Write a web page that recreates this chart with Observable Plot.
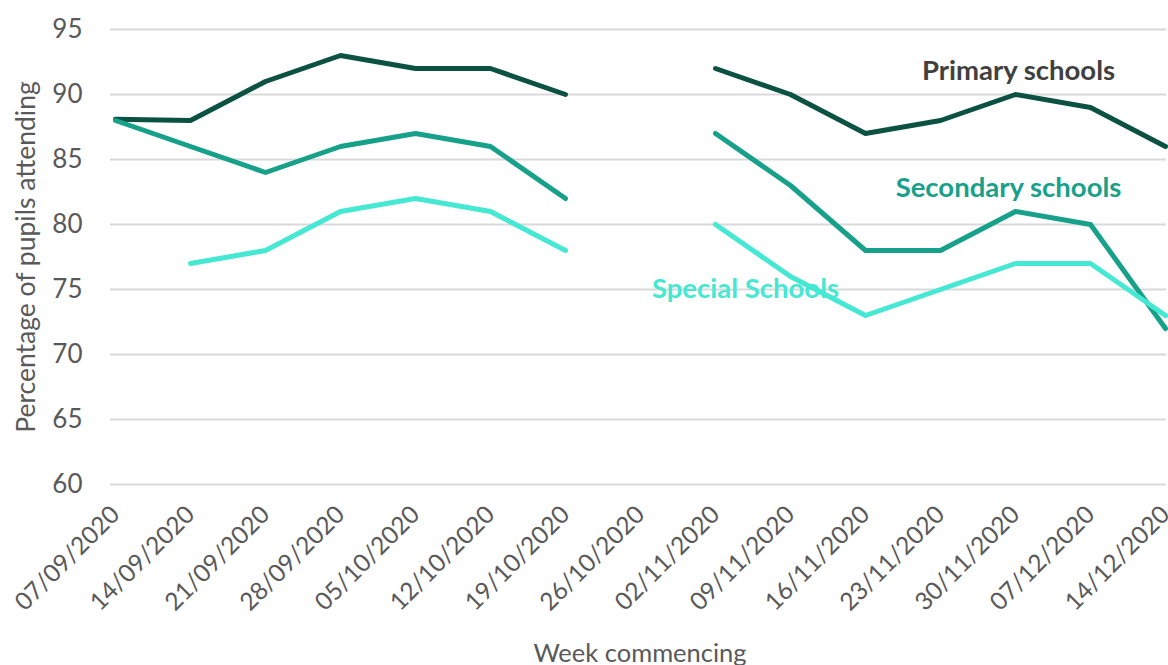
<!DOCTYPE html>
<html><head><meta charset="utf-8">
<script src="https://cdn.jsdelivr.net/npm/d3@7"></script>
<script src="https://cdn.jsdelivr.net/npm/@observablehq/plot@0.6"></script>
<style>
html,body{margin:0;padding:0;background:#fff;}
#chart svg{display:block;}
</style>
</head><body><div id="chart"></div>
<script>
const weeks = ["07/09/2020","14/09/2020","21/09/2020","28/09/2020","05/10/2020","12/10/2020","19/10/2020","26/10/2020","02/11/2020","09/11/2020","16/11/2020","23/11/2020","30/11/2020","07/12/2020","14/12/2020"];
const primary   = [88.1, 88, 91, 93, 92, 92, 90, null, 92, 90, 87, 88, 90, 89, 86];
const secondary = [88, 86, 84, 86, 87, 86, 82, null, 87, 83, 78, 78, 81, 80, 72];
const special   = [null, 77, 78, 81, 82, 81, 78, null, 80, 76, 73, 75, 77, 77, 73];
const seriesNames = ["Primary schools", "Secondary schools", "Special Schools"];
const yTicks = [60, 65, 70, 75, 80, 85, 90, 95];
const labelWeeks = ["30/11/2020", "30/11/2020", "02/11/2020"];
const labelValues = [91.8, 82.8, 75];
const yTitle = "Percentage of pupils attending";
const xTitle = "Week commencing";

const seriesValues = [primary, secondary, special];
const rows = seriesNames.flatMap((s, i) => weeks.map((w, j) => ({
  week: w, value: seriesValues[i][j] == null ? NaN : seriesValues[i][j], series: s
})));
const labelRows = seriesNames.map((s, i) => ({week: labelWeeks[i], value: labelValues[i], series: s}));

const lineColors = ["#0c5243", "#17a08a", "#45e8d2"];
const labelColors = ["#404040", "#17a08a", "#45e8d2"];
const labelDx = [3, -7, 30];

const chart = Plot.plot({
  width: 1168, height: 665,
  marginTop: 29, marginBottom: 181, marginLeft: 113, marginRight: 2,
  style: {fontFamily: "Lato, 'Open Sans', sans-serif", fontSize: "22px", color: "#595959", background: "#fff", overflow: "visible"},
  x: {type: "point", domain: weeks, padding: 0, label: null},
  y: {domain: [60, 95], label: null},
  color: {domain: seriesNames, range: lineColors},
  marks: [
    Plot.ruleY(yTicks, {stroke: "#d9d9d9", strokeWidth: 2, insetLeft: -3}),
    Plot.axisY({ticks: yTicks, tickSize: 0, tickPadding: 31, fontSize: 26, label: null}),
    Plot.axisX({tickSize: 0, tickRotate: -45, tickPadding: 26, fontSize: 24.5, label: null}),
    Plot.text([yTitle], {frameAnchor: "left", dx: -87, rotate: -90, textAnchor: "middle", lineAnchor: "middle", fontSize: 26.5, fill: "#595959"}),
    Plot.text([xTitle], {frameAnchor: "bottom", dy: 169, textAnchor: "middle", lineAnchor: "middle", fontSize: 25.5, fill: "#595959"}),
    Plot.line(rows, {x: "week", y: "value", z: "series", stroke: "series", strokeWidth: 5}),
    ...labelRows.map((r, i) => Plot.text([r], {x: "week", y: "value", text: "series",
      fill: labelColors[i], dx: labelDx[i], fontWeight: "bold", fontSize: 27.5}))
  ]
});
document.getElementById("chart").appendChild(chart);
</script>
</body></html>
